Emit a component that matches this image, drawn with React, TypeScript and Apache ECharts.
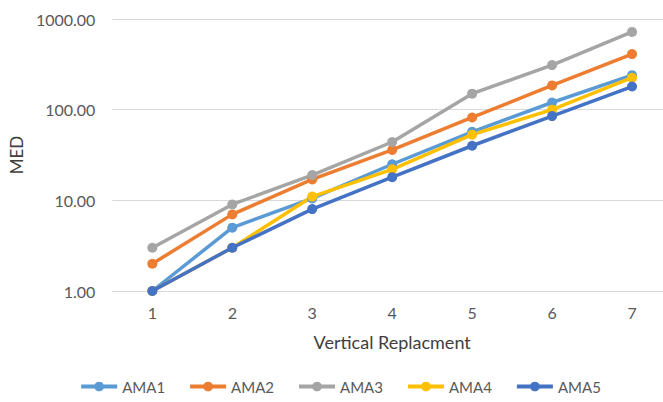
import React, { useEffect, useRef } from "react";
import * as echarts from "echarts";

const categories = ["1", "2", "3", "4", "5", "6", "7"];
const ama1 = [1, 5, 10.5, 25, 57, 120, 240];
const ama2 = [2, 7, 17, 36, 82, 185, 410];
const ama3 = [3, 9, 19, 44, 150, 310, 720];
const ama4 = [1, 3, 11, 22, 53, 100, 225];
const ama5 = [1, 3, 8, 18, 40, 85, 180];
const seriesNames = ["AMA1", "AMA2", "AMA3", "AMA4", "AMA5"];
const seriesData = [ama1, ama2, ama3, ama4, ama5];
const colors = ["#5B9BD5", "#ED7D31", "#A5A5A5", "#FFC000", "#4472C4"];

const FONT = "Lato, 'Open Sans', sans-serif";

export default function App() {
  const ref = useRef<HTMLDivElement>(null);
  useEffect(() => {
    if (!ref.current) return;
    const chart = echarts.init(ref.current, null, { renderer: "svg" });
    chart.setOption({
      animation: false,
      color: colors,
      grid: { left: 112, top: 19, width: 560, height: 272, containLabel: false },
      legend: {
        data: seriesNames,
        top: 374,
        left: "center",
        itemWidth: 36,
        itemHeight: 12,
        itemGap: 23,
        lineStyle: { width: 4 },
        textStyle: { color: "#595959", fontSize: 15, fontFamily: FONT },
      },
      xAxis: {
        type: "category",
        data: categories,
        boundaryGap: true,
        name: "Vertical Replacment",
        nameLocation: "middle",
        nameGap: 42,
        nameTextStyle: { color: "#404040", fontSize: 18, fontFamily: FONT },
        axisLine: { show: true, lineStyle: { color: "#D9D9D9", width: 1 } },
        axisTick: { show: false },
        axisLabel: { color: "#595959", fontSize: 16, fontFamily: FONT, margin: 13 },
      },
      yAxis: {
        type: "log",
        logBase: 10,
        min: 1,
        max: 1000,
        name: "MED",
        nameLocation: "middle",
        nameGap: 82,
        nameRotate: 90,
        nameTextStyle: { color: "#404040", fontSize: 17, fontFamily: FONT },
        axisLine: { show: false },
        axisTick: { show: false },
        splitLine: { show: true, lineStyle: { color: "#D9D9D9", width: 1 } },
        axisLabel: {
          color: "#595959",
          fontSize: 16,
          fontFamily: FONT,
          margin: 17,
          formatter: (v: number) => v.toFixed(2),
        },
      },
      series: seriesNames.map((name, i) => ({
        name,
        type: "line",
        data: seriesData[i],
        symbol: "circle",
        symbolSize: 10,
        lineStyle: { width: 3.5, color: colors[i] },
        itemStyle: { color: colors[i] },
        z: i === 4 ? 3 : 2,
      })),
    });
    return () => chart.dispose();
  }, []);
  return (
    <div
      style={{
        position: "fixed",
        left: 0,
        top: 0,
        width: 663,
        height: 402,
        overflow: "hidden",
        background: "#fff",
      }}
    >
      <div ref={ref} style={{ width: 680, height: 402 }} />
    </div>
  );
}
